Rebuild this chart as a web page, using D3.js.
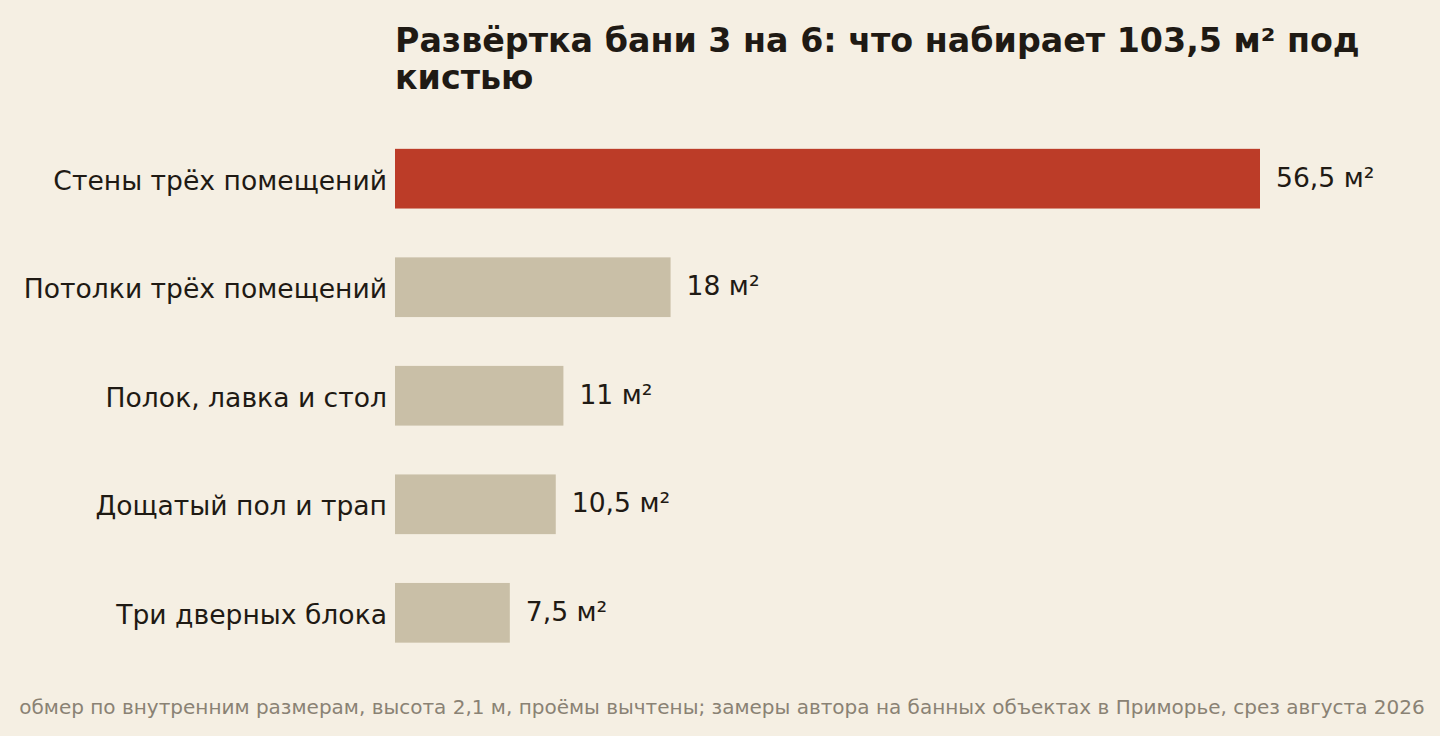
<!DOCTYPE html>
<html>
<head>
<meta charset="utf-8">
<script src="https://cdn.jsdelivr.net/npm/d3@7"></script>
<style>
  html, body { margin: 0; padding: 0; background: #f5efe3; }
  svg { display: block; font-family: "DejaVu Sans", sans-serif; }
</style>
</head>
<body>
<svg id="chart"></svg>
<script>
// surfaces to paint, m²
var categories = ['Стены трёх помещений', 'Потолки трёх помещений', 'Полок, лавка и стол', 'Дощатый пол и трап', 'Три дверных блока'];
var values = [56.5, 18, 11, 10.5, 7.5];
var valueLabels = ['56,5 м²', '18 м²', '11 м²', '10,5 м²', '7,5 м²'];
var highlight = ['Стены трёх помещений'];

var titleLines = ['Развёртка бани 3 на 6: что набирает 103,5 м² под', 'кистью'];
var note = 'обмер по внутренним размерам, высота 2,1 м, проёмы вычтены; замеры автора на банных объектах в Приморье, срез августа 2026';

var width = 1440, height = 736;
var left = 395;

var svg = d3.select('#chart')
    .attr('width', width)
    .attr('height', height);

svg.append('rect')
    .attr('width', width).attr('height', height)
    .attr('fill', '#f5efe3');

var x = d3.scaleLinear()
    .domain([0, 56.5])
    .range([left, 1260]);

var y = d3.scaleBand()
    .domain(categories)
    .range([100, 691.5])
    .paddingInner(0.45)
    .paddingOuter(0.45);

// title
svg.append('text')
    .attr('x', left)
    .attr('y', 52)
    .attr('font-size', 33.3)
    .attr('font-weight', 'bold')
    .attr('fill', '#1f1a14')
    .selectAll('tspan')
    .data(titleLines).enter()
    .append('tspan')
    .attr('x', left)
    .attr('dy', function (d, i) { return i === 0 ? 0 : 37; })
    .text(function (d) { return d; });

var rows = svg.append('g').attr('class', 'bars')
    .selectAll('g')
    .data(categories).enter()
    .append('g');

rows.append('rect')
    .attr('x', x(0))
    .attr('y', function (d) { return y(d); })
    .attr('height', y.bandwidth())
    .attr('width', function (d, i) { return x(values[i]) - x(0); })
    .attr('fill', function (d) {
        return highlight.indexOf(d) >= 0 ? '#bc3c28' : '#c9bfa7';
    });

// category labels
rows.append('text')
    .attr('x', left - 8)
    .attr('y', function (d) { return y(d) + y.bandwidth() / 2 + 11; })
    .attr('text-anchor', 'end')
    .attr('font-size', 26.6)
    .attr('fill', '#1f1a14')
    .text(function (d) { return d; });

// value labels
rows.append('text')
    .attr('x', function (d, i) { return x(values[i]) + 16; })
    .attr('y', function (d) { return y(d) + y.bandwidth() / 2 + 8; })
    .attr('font-size', 26.6)
    .attr('fill', '#1f1a14')
    .text(function (d, i) { return valueLabels[i]; });

// footnote
svg.append('text')
    .attr('x', width / 2 + 2)
    .attr('y', 714)
    .attr('text-anchor', 'middle')
    .attr('font-size', 20)
    .attr('fill', '#8a8274')
    .text(note);
</script>
</body>
</html>
